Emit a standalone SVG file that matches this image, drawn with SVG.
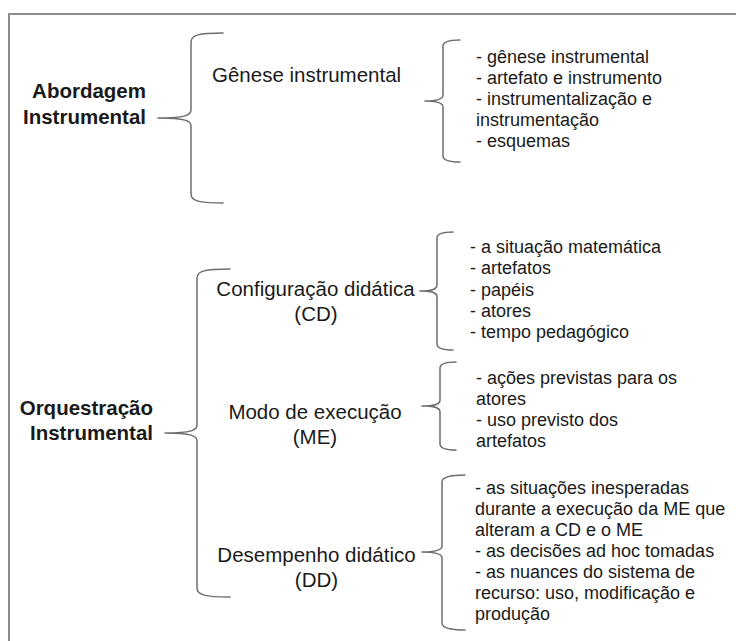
<svg xmlns="http://www.w3.org/2000/svg" width="736" height="641" viewBox="0 0 736 641">
<style>
.lbl{font-family:"Liberation Sans",Arial,sans-serif;font-size:20.5px;fill:#1a1a1a}
.bold{font-weight:bold}
.lst{font-family:"Liberation Sans",Arial,sans-serif;font-size:18px;fill:#1a1a1a}
.brace{fill:none;stroke:#6e6e6e;stroke-width:1.5;stroke-linecap:round;stroke-linejoin:round}
.frame{fill:none;stroke:#8c8c8c;stroke-width:2}
</style>
<rect width="736" height="641" fill="#ffffff"/>
<path class="frame" d="M9,641 V14 H736"/>

<g id="connectors">
  <path class="brace" d="M223,33 C199,33 191,35 191,42 V110 C191,115 186,118 158,118 C186,118 191,121 191,126 V194 C191,201 199,203 223,203"/>
  <path class="brace" d="M460,40 C448,40 443,42 443,46 V95 C443,99 438,101 425,101 C438,101 443,103 443,107 V156 C443,160 448,162 460,162"/>
  <path class="brace" d="M230,269 C205,269 197,271 197,278 V425 C197,430 192,433 165,433 C192,433 197,436 197,441 V588 C197,595 205,597 230,597"/>
  <path class="brace" d="M453,232 C442,232 437,234 437,238 V285 C437,289 433,291 420,291 C433,291 437,293 437,297 V344 C437,348 442,350 453,350"/>
  <path class="brace" d="M456,362 C445,362 440,364 440,368 V400 C440,404 436,406 422,406 C436,406 440,408 440,412 V444 C440,448 445,450 456,450"/>
  <path class="brace" d="M465,475 C450,475 442,477 442,482 V546 C442,550 437,552 422,552 C437,552 442,554 442,558 V623 C442,628 450,630 465,630"/>
</g>

<g id="abordagem">
  <text class="lbl bold" x="146" y="98" text-anchor="end">Abordagem</text>
  <text class="lbl bold" x="146" y="124" text-anchor="end">Instrumental</text>
</g>
<g id="genese">
  <text class="lbl" x="212" y="82">Gênese instrumental</text>
</g>
<g id="genese-list">
  <text class="lst" x="476" y="63">- gênese instrumental</text>
  <text class="lst" x="476" y="84">- artefato e instrumento</text>
  <text class="lst" x="476" y="105">- instrumentalização e</text>
  <text class="lst" x="476" y="126">instrumentação</text>
  <text class="lst" x="476" y="147">- esquemas</text>
</g>

<g id="orquestracao">
  <text class="lbl bold" x="153" y="415" text-anchor="end">Orquestração</text>
  <text class="lbl bold" x="153" y="440" text-anchor="end">Instrumental</text>
</g>

<g id="cd">
  <text class="lbl" x="315.5" y="296" text-anchor="middle">Configuração didática</text>
  <text class="lbl" x="316" y="321" text-anchor="middle">(CD)</text>
</g>
<g id="cd-list">
  <text class="lst" x="470" y="253">- a situação matemática</text>
  <text class="lst" x="470" y="274">- artefatos</text>
  <text class="lst" x="470" y="296">- papéis</text>
  <text class="lst" x="470" y="317">- atores</text>
  <text class="lst" x="470" y="338">- tempo pedagógico</text>
</g>

<g id="me">
  <text class="lbl" x="315" y="419" text-anchor="middle">Modo de execução</text>
  <text class="lbl" x="315" y="444" text-anchor="middle">(ME)</text>
</g>
<g id="me-list">
  <text class="lst" x="476" y="384">- ações previstas para os</text>
  <text class="lst" x="476" y="405">atores</text>
  <text class="lst" x="476" y="426">- uso previsto dos</text>
  <text class="lst" x="476" y="447">artefatos</text>
</g>

<g id="dd">
  <text class="lbl" x="316.5" y="562" text-anchor="middle">Desempenho didático</text>
  <text class="lbl" x="316.5" y="587" text-anchor="middle">(DD)</text>
</g>
<g id="dd-list">
  <text class="lst" x="475" y="494">- as situações inesperadas</text>
  <text class="lst" x="475" y="515">durante a execução da ME que</text>
  <text class="lst" x="475" y="536">alteram a CD e o ME</text>
  <text class="lst" x="475" y="557">- as decisões ad hoc tomadas</text>
  <text class="lst" x="475" y="578">- as nuances do sistema de</text>
  <text class="lst" x="475" y="599">recurso: uso, modificação e</text>
  <text class="lst" x="475" y="620">produção</text>
</g>
</svg>
